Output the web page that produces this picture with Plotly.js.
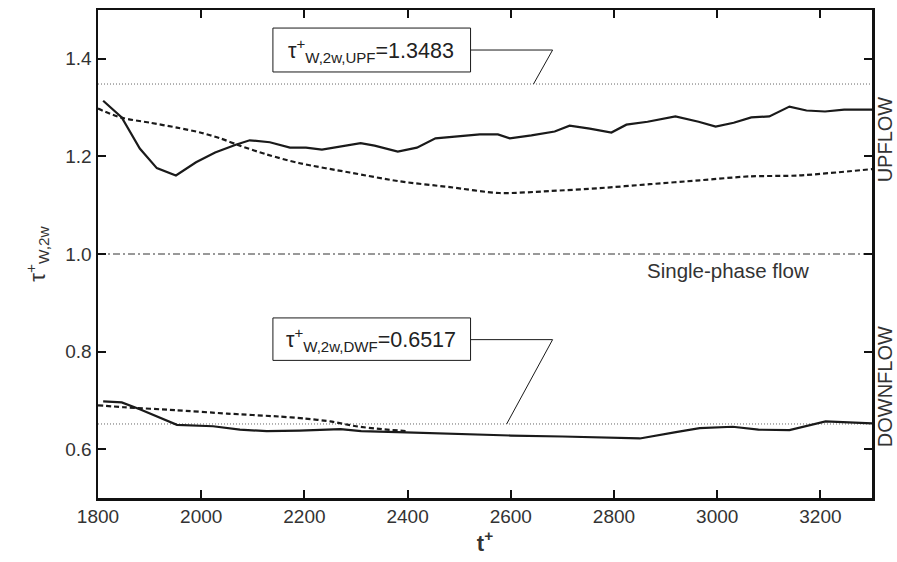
<!DOCTYPE html>
<html>
<head>
<meta charset="utf-8">
<script src="https://cdn.plot.ly/plotly-3.0.1.min.js"></script>
<style>html,body{margin:0;padding:0;background:#fff;}#chart{width:897px;height:562px;}</style>
</head>
<body>
<div id="chart"></div>
<script>
// Upflow, solid
const upSolidX = [1810,1846,1881,1914,1951,1990,2027,2067,2094,2133,2172,2203,2234,2269,2309,2336,2381,2418,2454,2497,2540,2575,2598,2640,2685,2714,2753,2795,2824,2865,2919,2964,2997,3032,3066,3101,3140,3173,3209,3246,3300];
const upSolidY = [1.314,1.280,1.216,1.176,1.161,1.188,1.208,1.224,1.233,1.229,1.218,1.218,1.214,1.220,1.227,1.222,1.210,1.218,1.237,1.241,1.245,1.245,1.237,1.243,1.251,1.263,1.257,1.249,1.265,1.271,1.282,1.271,1.261,1.269,1.280,1.282,1.302,1.294,1.292,1.296,1.296];
// Upflow, dashed
const upDashX = [1800,1843,1901,1953,1998,2037,2075,2127,2191,2288,2384,2482,2578,2675,2772,2869,2966,3062,3159,3300];
const upDashY = [1.298,1.280,1.269,1.259,1.249,1.237,1.222,1.204,1.186,1.167,1.149,1.137,1.125,1.129,1.135,1.143,1.151,1.159,1.161,1.174];
// Downflow, solid
const dnSolidX = [1810,1846,1881,1953,2023,2075,2127,2191,2270,2310,2380,2500,2600,2700,2780,2850,2920,2966,3030,3080,3140,3210,3300];
const dnSolidY = [0.698,0.696,0.682,0.650,0.647,0.640,0.637,0.638,0.641,0.637,0.635,0.631,0.628,0.626,0.624,0.622,0.635,0.643,0.646,0.640,0.639,0.657,0.653];
// Downflow, dashed
const dnDashX = [1800,1850,1950,2050,2150,2200,2250,2300,2350,2400];
const dnDashY = [0.690,0.686,0.680,0.673,0.667,0.663,0.657,0.647,0.641,0.637];
// Reference levels
const tauUPF = 1.3483;
const tauDWF = 0.6517;
const tauSingle = 1.0;
const xRange = [1800, 3300];
const yRange = [0.5, 1.5];
const xTicks = [1800,2000,2200,2400,2600,2800,3000,3200];
const yTicks = [0.6,0.8,1.0,1.2,1.4];
const yTickText = ['0.6','0.8','1.0','1.2','1.4'];

const font = 'Liberation Sans, Arial, sans-serif';
const ink = '#1a1a1a';

const traces = [
  {x: xRange, y: [tauUPF, tauUPF], mode:'lines', line:{color:'#666', width:1, dash:'1px,2px'}, hoverinfo:'skip'},
  {x: xRange, y: [tauDWF, tauDWF], mode:'lines', line:{color:'#666', width:1, dash:'1px,2px'}, hoverinfo:'skip'},
  {x: xRange, y: [tauSingle, tauSingle], mode:'lines', line:{color:'#333', width:1, dash:'7px,3px,2px,3px'}, hoverinfo:'skip'},
  {x: upSolidX, y: upSolidY, mode:'lines', line:{color:ink, width:2.2}},
  {x: upDashX, y: upDashY, mode:'lines', line:{color:ink, width:2.2, dash:'5px,3px', shape:'spline', smoothing:0.8}},
  {x: dnSolidX, y: dnSolidY, mode:'lines', line:{color:ink, width:2.2}},
  {x: dnDashX, y: dnDashY, mode:'lines', line:{color:ink, width:2.2, dash:'5px,3px', shape:'spline', smoothing:0.6}},
  // leader lines
  {x: [2522, 2681, 2644], y: [1.418, 1.418, tauUPF], mode:'lines', line:{color:ink, width:1}, hoverinfo:'skip'},
  {x: [2522, 2681, 2592], y: [0.8245, 0.8245, tauDWF], mode:'lines', line:{color:ink, width:1}, hoverinfo:'skip'}
];

const layout = {
  width: 897, height: 562,
  margin: {l: 98, r: 25, t: 10, b: 64},
  paper_bgcolor: '#fff', plot_bgcolor: '#fff',
  showlegend: false,
  font: {family: font, color: '#333', size: 16},
  xaxis: {
    range: xRange, tickvals: xTicks, ticks: 'inside', ticklen: 8, tickwidth: 2, tickcolor: '#111',
    showline: true, linewidth: 2.5, linecolor: '#111', mirror: 'ticks', showgrid: false, zeroline: false,
    tickfont: {size: 19, color: '#333'},
    title: {text: '<b>t<sup>+</sup></b>', font: {size: 22, color: '#333'}, standoff: 6}
  },
  yaxis: {
    range: yRange, tickvals: yTicks, ticktext: yTickText, ticks: 'inside', ticklen: 8, tickwidth: 2, tickcolor: '#111',
    showline: true, linewidth: 2.5, linecolor: '#111', mirror: 'ticks', showgrid: false, zeroline: false,
    tickfont: {size: 19, color: '#333'},
    title: {text: 'τ<sup>+</sup><sub>W,2w</sub>', font: {size: 22, color: '#333'}, standoff: 14}
  },
  shapes: [
    {type:'rect', xref:'x', yref:'y', x0:2139, x1:2522, y0:1.373, y1:1.463, line:{color:ink, width:1}, fillcolor:'#fff', layer:'above'},
    {type:'rect', xref:'x', yref:'y', x0:2139, x1:2522, y0:0.782, y1:0.869, line:{color:ink, width:1}, fillcolor:'#fff', layer:'above'}
  ],
  annotations: [
    {xref:'x', yref:'y', x:2330, y:1.418, text:'τ<sup>+</sup><sub>W,2w,UPF</sub>=1.3483', showarrow:false, font:{size:21.5, color:'#222'}},
    {xref:'x', yref:'y', x:2330, y:0.8255, text:'τ<sup>+</sup><sub>W,2w,DWF</sub>=0.6517', showarrow:false, font:{size:21.5, color:'#222'}},
    {xref:'x', yref:'y', x:3020, y:0.966, text:'Single-phase flow', showarrow:false, font:{size:20.5, color:'#333'}},
    {xref:'paper', yref:'y', x:1.0, xshift:13, xanchor:'center', y:1.235, text:'UPFLOW', textangle:-90, showarrow:false, font:{size:20, color:'#333'}},
    {xref:'paper', yref:'y', x:1.0, xshift:13, xanchor:'center', y:0.727, text:'DOWNFLOW', textangle:-90, showarrow:false, font:{size:20, color:'#333'}}
  ]
};

Plotly.newPlot('chart', traces, layout, {displayModeBar: false, staticPlot: true});
</script>
</body>
</html>
